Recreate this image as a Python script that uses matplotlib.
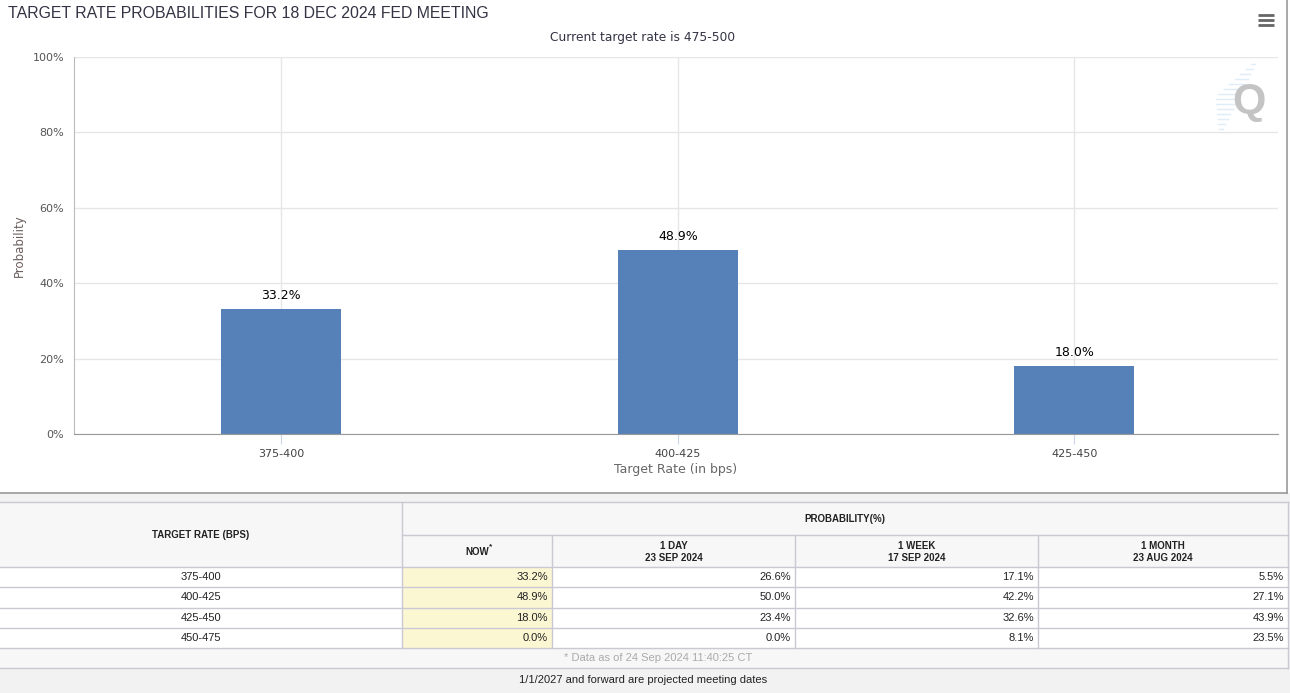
import matplotlib
matplotlib.use('Agg')
import matplotlib.pyplot as plt
from matplotlib.patches import Rectangle

# data
table_rates = ['375-400', '400-425', '425-450', '450-475']
prob_now = [33.2, 48.9, 18.0, 0.0]
prob_1day = [26.6, 50.0, 23.4, 0.0]
prob_1week = [17.1, 42.2, 32.6, 8.1]
prob_1month = [5.5, 27.1, 43.9, 23.5]
col_heads = ['NOW', '1 DAY\n23 SEP 2024', '1 WEEK\n17 SEP 2024', '1 MONTH\n23 AUG 2024']
yticks = [0, 20, 40, 60, 80, 100]

title = 'TARGET RATE PROBABILITIES FOR 18 DEC 2024 FED MEETING'
subtitle = 'Current target rate is 475-500'
footnote = '* Data as of 24 Sep 2024 11:40:25 CT'
bottom_note = '1/1/2027 and forward are projected meeting dates'

# chart shows only the non-zero buckets
chart_cats = [r for r, p in zip(table_rates, prob_now) if p > 0]
chart_vals = [p for p in prob_now if p > 0]

W, H = 1290, 693
fig = plt.figure(figsize=(W / 100, H / 100), dpi=100)
fig.patch.set_facecolor('white')

# overlay in pixel coordinates for the page pieces
ov = fig.add_axes([0, 0, 1, 1], zorder=0)
ov.set_xlim(0, W)
ov.set_ylim(H, 0)
ov.set_axis_off()

# page background under chart
ov.add_patch(Rectangle((0, 493), W, H - 493, facecolor='#f2f2f2', edgecolor='none'))
ov.plot([0, 1287], [493, 493], color='#9a9a9a', lw=1.2)
ov.plot([1287, 1287], [0, 493], color='#9a9a9a', lw=1.2)

# title / subtitle
ov.text(8, 13, title, fontsize=11.4, family='Liberation Sans',
        color='#333344', va='center', ha='left')
ov.text(643, 37, subtitle, fontsize=8.8, color='#333344', va='center', ha='center')

# menu icon
for yy in [15, 20, 25]:
    ov.plot([1258, 1274], [yy, yy], color='#666666', lw=2.0, solid_capstyle='butt')

# watermark
for i, yy in enumerate(range(64, 134, 5)):
    xr = 1255 - (yy - 64) * 0.5
    ln = 4 + min(i, 13 - i) * 3.0
    ov.plot([xr - ln, xr], [yy, yy], color='#e0edf9', lw=1.0)
ov.text(1249, 102, 'Q', fontsize=31, fontweight='bold', family='Liberation Sans',
        color='#c4c4c4', ha='center', va='center')

# table
tfont = 'Liberation Sans'
col_x = [0, 402, 552, 795, 1038, 1288]
top, r1, r2 = 502, 535, 567
row_h = 20.3
line_c = '#c9c9d3'
head_bg = '#f7f7f7'
n = len(table_rates)
rows_bottom = r2 + n * row_h
ov.add_patch(Rectangle((0, top), 1288, r2 - top, facecolor=head_bg, edgecolor='none'))
ov.add_patch(Rectangle((0, r2), 1288, n * row_h, facecolor='white', edgecolor='none'))
ov.add_patch(Rectangle((col_x[1], r2), col_x[2] - col_x[1], n * row_h,
                       facecolor='#fcf7d3', edgecolor='none'))
ov.add_patch(Rectangle((0, rows_bottom), 1288, 20, facecolor=head_bg, edgecolor='none'))

# grid lines
ov.plot([0, 1288], [top, top], color=line_c, lw=1)
ov.plot([col_x[1], 1288], [r1, r1], color=line_c, lw=1)
for k in range(n + 1):
    yy = r2 + k * row_h
    ov.plot([0, 1288], [yy, yy], color=line_c, lw=1)
ov.plot([0, 1288], [rows_bottom + 20, rows_bottom + 20], color=line_c, lw=1)
ov.plot([col_x[1], col_x[1]], [top, rows_bottom], color=line_c, lw=1)
for cx in col_x[2:5]:
    ov.plot([cx, cx], [r1, rows_bottom], color=line_c, lw=1)
ov.plot([1288, 1288], [top, rows_bottom + 20], color=line_c, lw=1)

ov.text(col_x[1] / 2, (top + r2) / 2, 'TARGET RATE (BPS)', fontsize=7, fontweight='bold',
        family=tfont, ha='center', va='center', color='#222222')
ov.text((col_x[1] + 1288) / 2, (top + r1) / 2, 'PROBABILITY(%)', fontsize=7, fontweight='bold',
        family=tfont, ha='center', va='center', color='#222222')
for j, head in enumerate(col_heads):
    cx = (col_x[j + 1] + col_x[j + 2]) / 2
    ov.text(cx, (r1 + r2) / 2 + 1, head, fontsize=7, fontweight='bold', family=tfont,
            ha='center', va='center', color='#222222', linespacing=1.3)
ov.text((col_x[1] + col_x[2]) / 2 + 14, (r1 + r2) / 2 - 4, '*', fontsize=6, fontweight='bold',
        family=tfont, ha='center', va='center', color='#222222')

cols = [prob_now, prob_1day, prob_1week, prob_1month]
for i, rate in enumerate(table_rates):
    yy = r2 + (i + 0.5) * row_h
    ov.text(col_x[1] / 2, yy, rate, fontsize=8, family=tfont, ha='center', va='center',
            color='#222222')
    for j, vals in enumerate(cols):
        ov.text(col_x[j + 2] - 4, yy, f'{vals[i]:.1f}%', fontsize=8, family=tfont,
                ha='right', va='center', color='#222222')

ov.text(658, rows_bottom + 10, footnote, fontsize=8, family=tfont, ha='center', va='center',
        color='#aaaaaa')
ov.text(643, 680, bottom_note, fontsize=8, family=tfont, ha='center', va='center',
        color='#222222')

# bar chart
ax = fig.add_axes([74 / W, 1 - 434 / H, 1204 / W, 377 / H], zorder=1)
ax.set_facecolor('none')
x = list(range(len(chart_cats)))
ax.bar(x, chart_vals, width=0.303, color='#5681b8', zorder=2)
for xi, v in zip(x, chart_vals):
    ax.annotate(f'{v:.1f}%', (xi, v), xytext=(0, 5), textcoords='offset points',
                ha='center', va='bottom', fontsize=9, color='#000000')

ax.set_xlim(-0.523, len(chart_cats) - 0.486)
ax.set_ylim(0, 100)
ax.set_yticks(yticks)
ax.set_yticklabels([f'{t}%' for t in yticks])
ax.set_xticks(x)
ax.set_xticklabels(chart_cats)
ax.grid(True, color='#e6e6e6', lw=1, zorder=0)
ax.set_axisbelow(True)
for s in ['top', 'right']:
    ax.spines[s].set_visible(False)
ax.spines['left'].set_color('#bbbbbb')
ax.spines['bottom'].set_color('#999999')
ax.tick_params(axis='y', length=0, pad=7, labelsize=8, labelcolor='#555555')
ax.tick_params(axis='x', length=7, color='#ccd6eb', pad=4, labelsize=8, labelcolor='#444444')
ax.set_xlabel('Target Rate (in bps)', fontsize=9, color='#666666', labelpad=3)
ax.set_ylabel('Probability', fontsize=8.5, color='#6b5e5e', labelpad=5)

fig.savefig('out.png', dpi=100)
